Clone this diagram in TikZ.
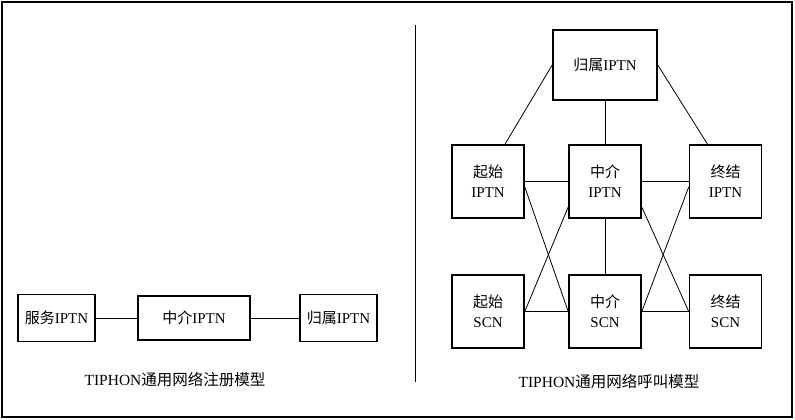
\documentclass[tikz,border=0pt]{standalone}
\usepackage{fontspec}
\setmainfont{Liberation Serif}
\newfontfamily\cjk{Noto Sans CJK SC}
\begin{document}
\begin{tikzpicture}[x=1pt,y=-1pt,
  netbox/.style={draw,line width=1.6pt,inner sep=0pt,align=center,
    font=\fontsize{15}{20}\selectfont},
  link/.style={line width=0.8pt},
  caption/.style={inner sep=0pt,font=\fontsize{15.5}{18}\selectfont}]
\useasboundingbox (0,0) rectangle (795,420);
\draw[line width=1.8pt] (2,2) rectangle (792,417);
\coordinate (dtop) at (415,25);
\coordinate (dbot) at (415,382);
\draw[line width=1pt] (dtop) -- (dbot);
% left diagram
\node[netbox,minimum width=77pt,minimum height=47pt] (fw) at (56.5,318) {{\cjk 服务}IPTN};
\node[netbox,minimum width=112pt,minimum height=44pt] (zj) at (194,318) {{\cjk 中介}IPTN};
\node[netbox,minimum width=77pt,minimum height=47pt] (gs) at (338.5,318) {{\cjk 归属}IPTN};
\draw[link] (fw) -- (zj);
\draw[link] (zj) -- (gs);
\node[caption] (cap1) at (175,380) {TIPHON{\cjk 通用网络注册模型}};
% right diagram
\node[netbox,minimum width=104pt,minimum height=70pt] (home) at (605,65) {{\cjk 归属}IPTN};
\node[netbox,minimum width=72pt,minimum height=73pt] (oi) at (488,181.5) {{\cjk 起始}\\IPTN};
\node[netbox,minimum width=72pt,minimum height=73pt] (mi) at (605,181.5) {{\cjk 中介}\\IPTN};
\node[netbox,minimum width=72pt,minimum height=73pt] (ti) at (725.5,181.5) {{\cjk 终结}\\IPTN};
\node[netbox,minimum width=72pt,minimum height=73pt] (os) at (488,311.5) {{\cjk 起始}\\SCN};
\node[netbox,minimum width=72pt,minimum height=73pt] (ms) at (605,311.5) {{\cjk 中介}\\SCN};
\node[netbox,minimum width=72pt,minimum height=73pt] (ts) at (725.5,311.5) {{\cjk 终结}\\SCN};
\draw[link] (home.west) -- ([xshift=17pt]oi.north);
\draw[link] (home.east) -- ([xshift=-18pt]ti.north);
\draw[link] (home) -- (mi);
\draw[link] (oi) -- (mi);
\draw[link] (mi) -- (ti);
\draw[link] (mi) -- (ms);
\draw[link] (os) -- (ms);
\draw[link] (ms) -- (ts);
\draw[link] ([yshift=-5.5pt]oi.east) -- (ms.west);
\draw[link] ([yshift=-25.5pt]mi.west) -- (os.east);
\draw[link] ([yshift=-25.5pt]mi.east) -- (ts.west);
\draw[link] ([yshift=-5.5pt]ti.west) -- (ms.east);
\node[caption] (cap2) at (609,382) {TIPHON{\cjk 通用网络呼叫模型}};
\end{tikzpicture}
\end{document}
